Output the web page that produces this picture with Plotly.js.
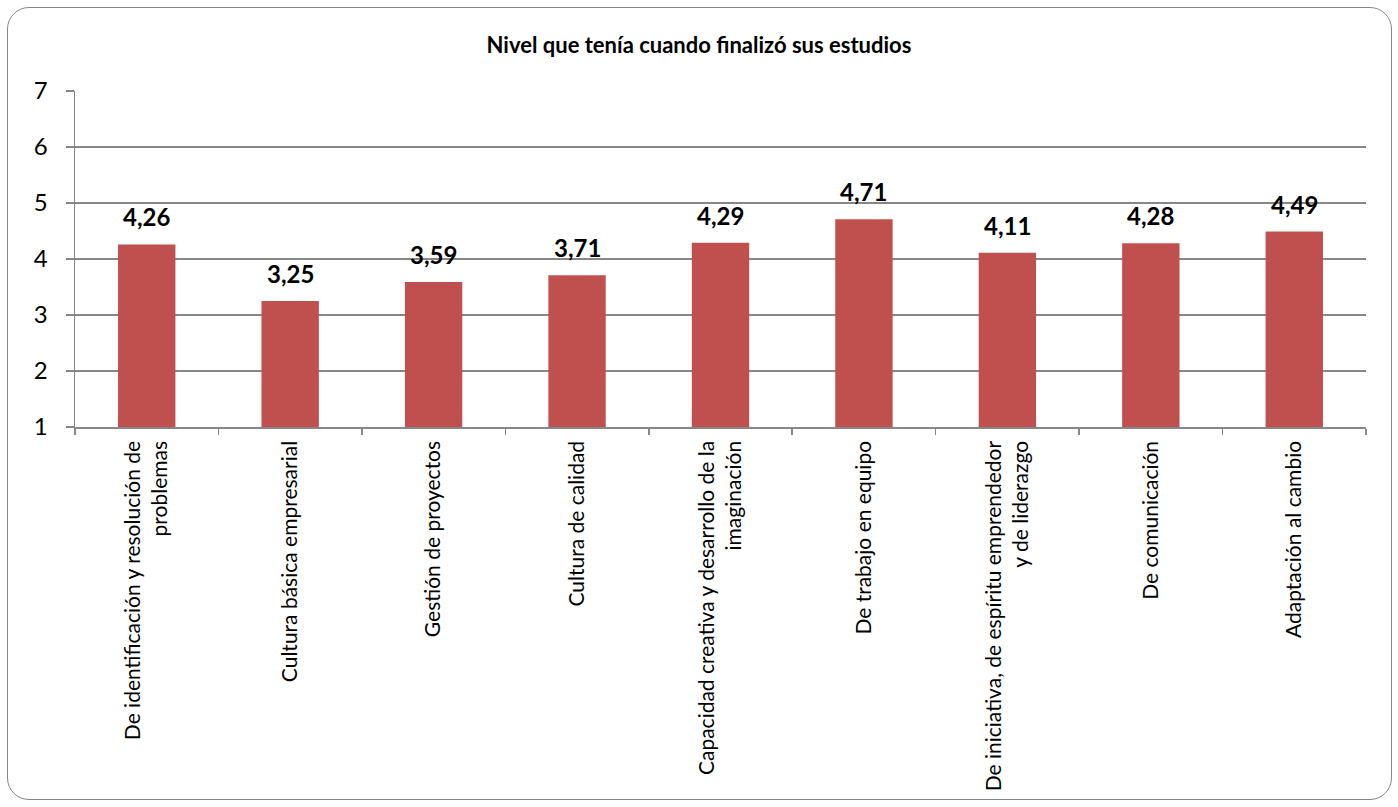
<!DOCTYPE html>
<html>
<head>
<meta charset="utf-8">
<script src="https://cdn.plot.ly/plotly-3.0.1.min.js"></script>
<style>
  html, body { margin: 0; padding: 0; background: #ffffff; }
  #wrap { position: relative; width: 1398px; height: 807px; }
  #chart { width: 1398px; height: 807px; }
  #frame { position: absolute; left: 7px; top: 7px; width: 1383px; height: 791px;
           border: 1.5px solid #868686; border-radius: 22px; pointer-events: none; }
</style>
</head>
<body>
<div id="wrap">
  <div id="chart"></div>
  <div id="frame"></div>
</div>
<script>
const chartTitle = "Nivel que tenía cuando finalizó sus estudios";
const categories = [
  "De identificación y resolución de<br>problemas",
  "Cultura básica empresarial",
  "Gestión de proyectos",
  "Cultura de calidad",
  "Capacidad creativa y desarrollo de la<br>imaginación",
  "De trabajo en equipo",
  "De iniciativa, de espíritu emprendedor<br>y de liderazgo",
  "De comunicación",
  "Adaptación al cambio"
];
const values = [4.26, 3.25, 3.59, 3.71, 4.29, 4.71, 4.11, 4.28, 4.49];
const yTicks = [1, 2, 3, 4, 5, 6, 7];

const FONT = "Lato, 'Open Sans', sans-serif";
const GRID = "#878787";
const fmt = v => v.toFixed(2).replace(".", ",");

const trace = {
  type: "bar",
  x: categories,
  y: values,
  marker: { color: "#C0504D", line: { width: 0 } },
  hoverinfo: "none"
};

const annotations = categories.map((c, i) => ({
  x: c, y: values[i], xref: "x", yref: "y",
  text: "<b>" + fmt(values[i]) + "</b>",
  showarrow: false, yanchor: "bottom", yshift: 11,
  font: { family: FONT, size: 24, color: "#000000" }
}));

const layout = {
  width: 1398, height: 807,
  margin: { l: 75, r: 32, t: 91, b: 380 },
  paper_bgcolor: "#ffffff",
  plot_bgcolor: "#ffffff",
  showlegend: false,
  bargap: 0.6,
  separators: ",.",
  title: {
    text: "<b>" + chartTitle + "</b>",
    font: { family: FONT, size: 22, color: "#000000" },
    x: 0.5, xanchor: "center", xref: "container",
    y: 1 - 45 / 807, yanchor: "middle", yref: "container"
  },
  xaxis: {
    type: "category",
    tickson: "boundaries",
    ticks: "outside", ticklen: 6, tickcolor: GRID, tickwidth: 1.5,
    showline: true, linecolor: GRID, linewidth: 1.5,
    showgrid: false,
    tickangle: -90,
    ticklabelstandoff: 4,
    tickfont: { family: FONT, size: 21, color: "#000000" },
    automargin: false
  },
  yaxis: {
    range: [1, 7],
    tickvals: yTicks,
    ticktext: yTicks.map(String),
    ticks: "outside", ticklen: 8, tickcolor: GRID, tickwidth: 1.5,
    showline: true, linecolor: GRID, linewidth: 1.5,
    showgrid: true, gridcolor: GRID, gridwidth: 1.5,
    zeroline: false,
    ticklabelstandoff: 13,
    tickfont: { family: FONT, size: 24, color: "#000000" },
    automargin: false
  },
  annotations: annotations
};

Plotly.newPlot("chart", [trace], layout, { staticPlot: true, displayModeBar: false });
</script>
</body>
</html>
